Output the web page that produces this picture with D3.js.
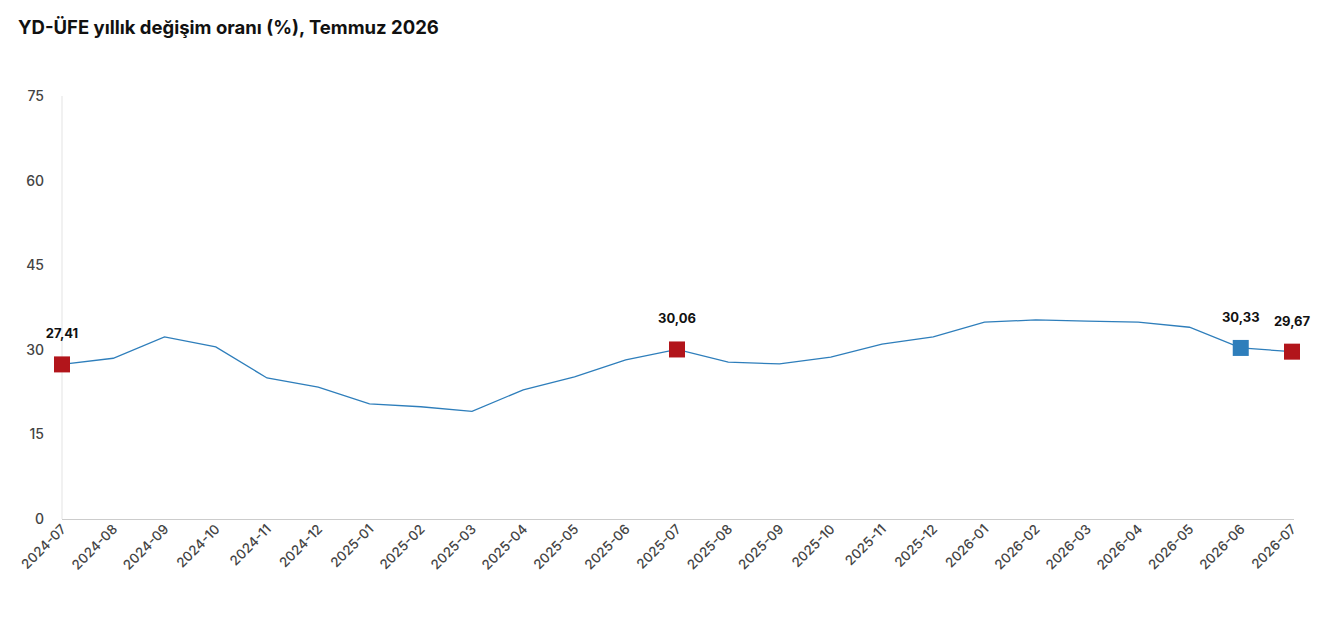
<!DOCTYPE html>
<html>
<head>
<meta charset="utf-8">
<script src="https://cdn.jsdelivr.net/npm/d3@7"></script>
<style>
	body{margin:0;background:#fff;font-family:Inter,"Noto Sans",sans-serif;}
</style>
</head>
<body>
<svg id="chart" width="1326" height="617"></svg>
<script>
var months = ['2024-07','2024-08','2024-09','2024-10','2024-11','2024-12','2025-01','2025-02','2025-03','2025-04','2025-05','2025-06','2025-07','2025-08','2025-09','2025-10','2025-11','2025-12','2026-01','2026-02','2026-03','2026-04','2026-05','2026-06','2026-07'];
var rates = [27.41,28.5,32.3,30.5,25.0,23.4,20.4,19.9,19.1,22.9,25.2,28.2,30.06,27.8,27.5,28.7,31.0,32.3,34.9,35.3,35.1,34.9,34.0,30.33,29.67];
var yTicks = [0,15,30,45,60,75];
// highlighted points: index, colour
var markers = [[0,'#b2151b'],[12,'#b2151b'],[23,'#2e7ebb'],[24,'#b2151b']];

var svg = d3.select('#chart');

svg.append('text')
	.attr('x', 18).attr('y', 34)
	.style('font-size', '18.5px').style('font-weight', 700).style('fill', '#111')
	.text('YD-ÜFE yıllık değişim oranı (%), Temmuz 2026');

var x = d3.scalePoint().domain(months).range([62, 1292]);
var y = d3.scaleLinear().domain([0, 75]).range([519, 96]);

svg.append('line').attr('x1', 62).attr('x2', 62).attr('y1', 96).attr('y2', 519).attr('stroke', '#e3e3e3');
svg.append('line').attr('x1', 62).attr('x2', 1294).attr('y1', 519.5).attr('y2', 519.5).attr('stroke', '#ccc');

svg.selectAll('.ytick').data(yTicks).enter().append('text')
	.attr('x', 44).attr('y', function(d){ return y(d) + 5; })
	.attr('text-anchor', 'end')
	.style('font-size', '14px').style('font-weight', 500).style('fill', '#444')
	.text(function(d){ return d; });

svg.selectAll('.xtick').data(months).enter().append('text')
	.attr('transform', function(d){ return 'translate(' + (x(d) + 5) + ',530) rotate(-45)'; })
	.attr('text-anchor', 'end')
	.style('font-size', '13.5px').style('font-weight', 500).style('fill', '#444')
	.text(function(d){ return d; });

var line = d3.line().x(function(d, i){ return x(months[i]); }).y(function(d){ return y(d); });
svg.append('path').datum(rates)
	.attr('d', line).attr('fill', 'none').attr('stroke', '#2e7ebb').attr('stroke-width', 1.3);

markers.forEach(function(m){
	var cx = x(months[m[0]]), cy = y(rates[m[0]]);
	svg.append('rect').attr('x', cx - 8).attr('y', cy - 8).attr('width', 16).attr('height', 16).attr('fill', m[1]);
	svg.append('text')
		.attr('x', cx).attr('y', cy - 26)
		.attr('text-anchor', 'middle')
		.style('font-size', '13px').style('font-weight', 700).style('fill', '#111')
		.text(rates[m[0]].toFixed(2).replace('.', ','));
});
</script>
</body>
</html>
